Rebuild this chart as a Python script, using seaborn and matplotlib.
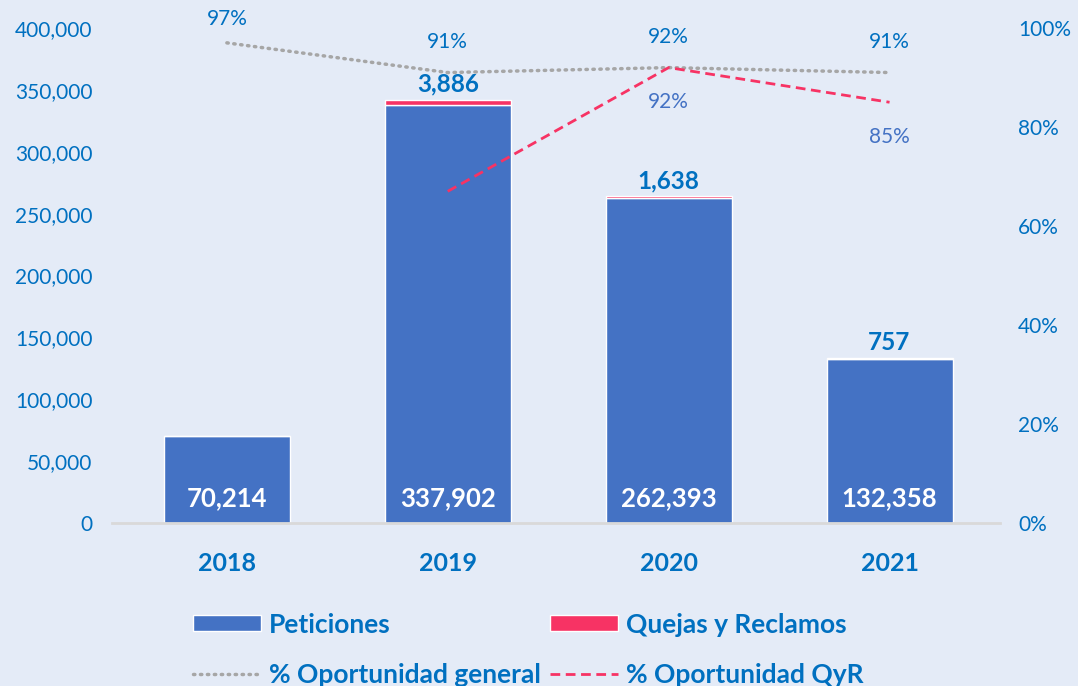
import numpy as np
import pandas as pd
import seaborn as sns
from matplotlib import pyplot as plt
from matplotlib.ticker import FuncFormatter

BG = "#E4EBF7"
TXT = "#0070C0"
BLUE = "#4472C4"
PINK = "#F73364"

years = ["2018", "2019", "2020", "2021"]
peticiones = [70214, 337902, 262393, 132358]
quejas = [0, 3886, 1638, 757]
op_general = [0.97, 0.91, 0.92, 0.91]
op_qyr = [np.nan, 0.67, 0.92, 0.85]
qyr_labels = ["", "", "92%", "85%"]

sns.set_theme(
    style="white",
    rc={
        "figure.facecolor": BG,
        "axes.facecolor": BG,
        "savefig.facecolor": BG,
    },
)
plt.rcParams["font.family"] = ["Lato", "DejaVu Sans"]

df = pd.DataFrame(
    {"year": years, "pet": peticiones, "qyr": quejas, "gen": op_general, "opq": op_qyr}
)

fig = plt.figure(figsize=(10.78, 6.86), dpi=100)
ax = fig.add_axes([112 / 1078, 1 - 523 / 686, 888 / 1078, 495 / 686])

sns.barplot(data=df, x="year", y="pet", color=BLUE, width=0.57, saturation=1, ax=ax)
bars_pet = ax.containers[0]
bars_q = ax.bar(df["year"], df["qyr"], bottom=df["pet"], width=0.57, color=PINK)

ax.set_ylim(0, 400000)
ax.set_xlim(-0.52, 3.5)
ax.set_yticks(range(0, 400001, 50000))
ax.yaxis.set_major_formatter(FuncFormatter(lambda v, _: f"{int(v):,}"))
ax.tick_params(axis="y", labelsize=15, labelcolor=TXT, length=0, pad=14)
ax.tick_params(axis="x", labelsize=18, labelcolor=TXT, length=0, pad=21)
for lbl in ax.get_xticklabels():
    lbl.set_fontweight("bold")
ax.set_xlabel("")
ax.set_ylabel("")
for s in ["top", "left", "right"]:
    ax.spines[s].set_visible(False)
ax.spines["bottom"].set_color("#D9D9D9")
ax.spines["bottom"].set_linewidth(2)

# values inside bars
for i, v in enumerate(peticiones):
    ax.text(i, 20000, f"{v:,}", ha="center", va="center", color="white",
            fontsize=18.5, fontweight="bold")
ax.bar_label(bars_q, labels=[f"{v:,}" if v else "" for v in quejas], padding=3,
             color=TXT, fontsize=17.5, fontweight="bold")

ax2 = ax.twinx()
sns.lineplot(x=np.arange(4), y=df["gen"], ax=ax2, color="#A6A6A6", lw=2.5,
             linestyle=(0, (0.4, 1.6)), dash_capstyle="round", label="% Oportunidad general")
sns.lineplot(x=np.arange(4), y=df["opq"], ax=ax2, color=PINK, lw=2,
             linestyle=(0, (3.5, 2)), label="% Oportunidad QyR")
ax2.get_legend().remove()
ax2.set_ylabel("")
ax2.set_ylim(0, 1.0)
ax2.set_yticks(np.arange(0, 1.01, 0.2))
ax2.yaxis.set_major_formatter(FuncFormatter(lambda v, _: f"{v:.0%}"))
ax2.tick_params(axis="y", labelsize=15, labelcolor=TXT, length=0, pad=13)
for s in ["top", "left", "right", "bottom"]:
    ax2.spines[s].set_visible(False)

for i, v in enumerate(op_general):
    ax2.annotate(f"{v:.0%}", (i, v), xytext=(0, 17 if i == 0 else 22),
                 textcoords="offset points", ha="center", va="center",
                 color=TXT, fontsize=15)
for i, (v, t) in enumerate(zip(op_qyr, qyr_labels)):
    if t:
        ax2.annotate(t, (i, v), xytext=(0, -25), textcoords="offset points",
                     ha="center", va="center", color=BLUE, fontsize=15)

handles = [bars_pet.patches[0], ax2.lines[0], bars_q.patches[1], ax2.lines[1]]
labels = ["Peticiones", "% Oportunidad general", "Quejas y Reclamos", "% Oportunidad QyR"]
leg = fig.legend(handles, labels, ncol=2, loc="lower center", bbox_to_anchor=(0.49, -0.036),
                 frameon=False, handlelength=2.55, handleheight=0.57, handletextpad=0.3,
                 columnspacing=0.38, labelspacing=1.0,
                 prop={"size": 19, "weight": "bold"})
for t in leg.get_texts():
    t.set_color(TXT)

fig.savefig("out.png", dpi=100)
